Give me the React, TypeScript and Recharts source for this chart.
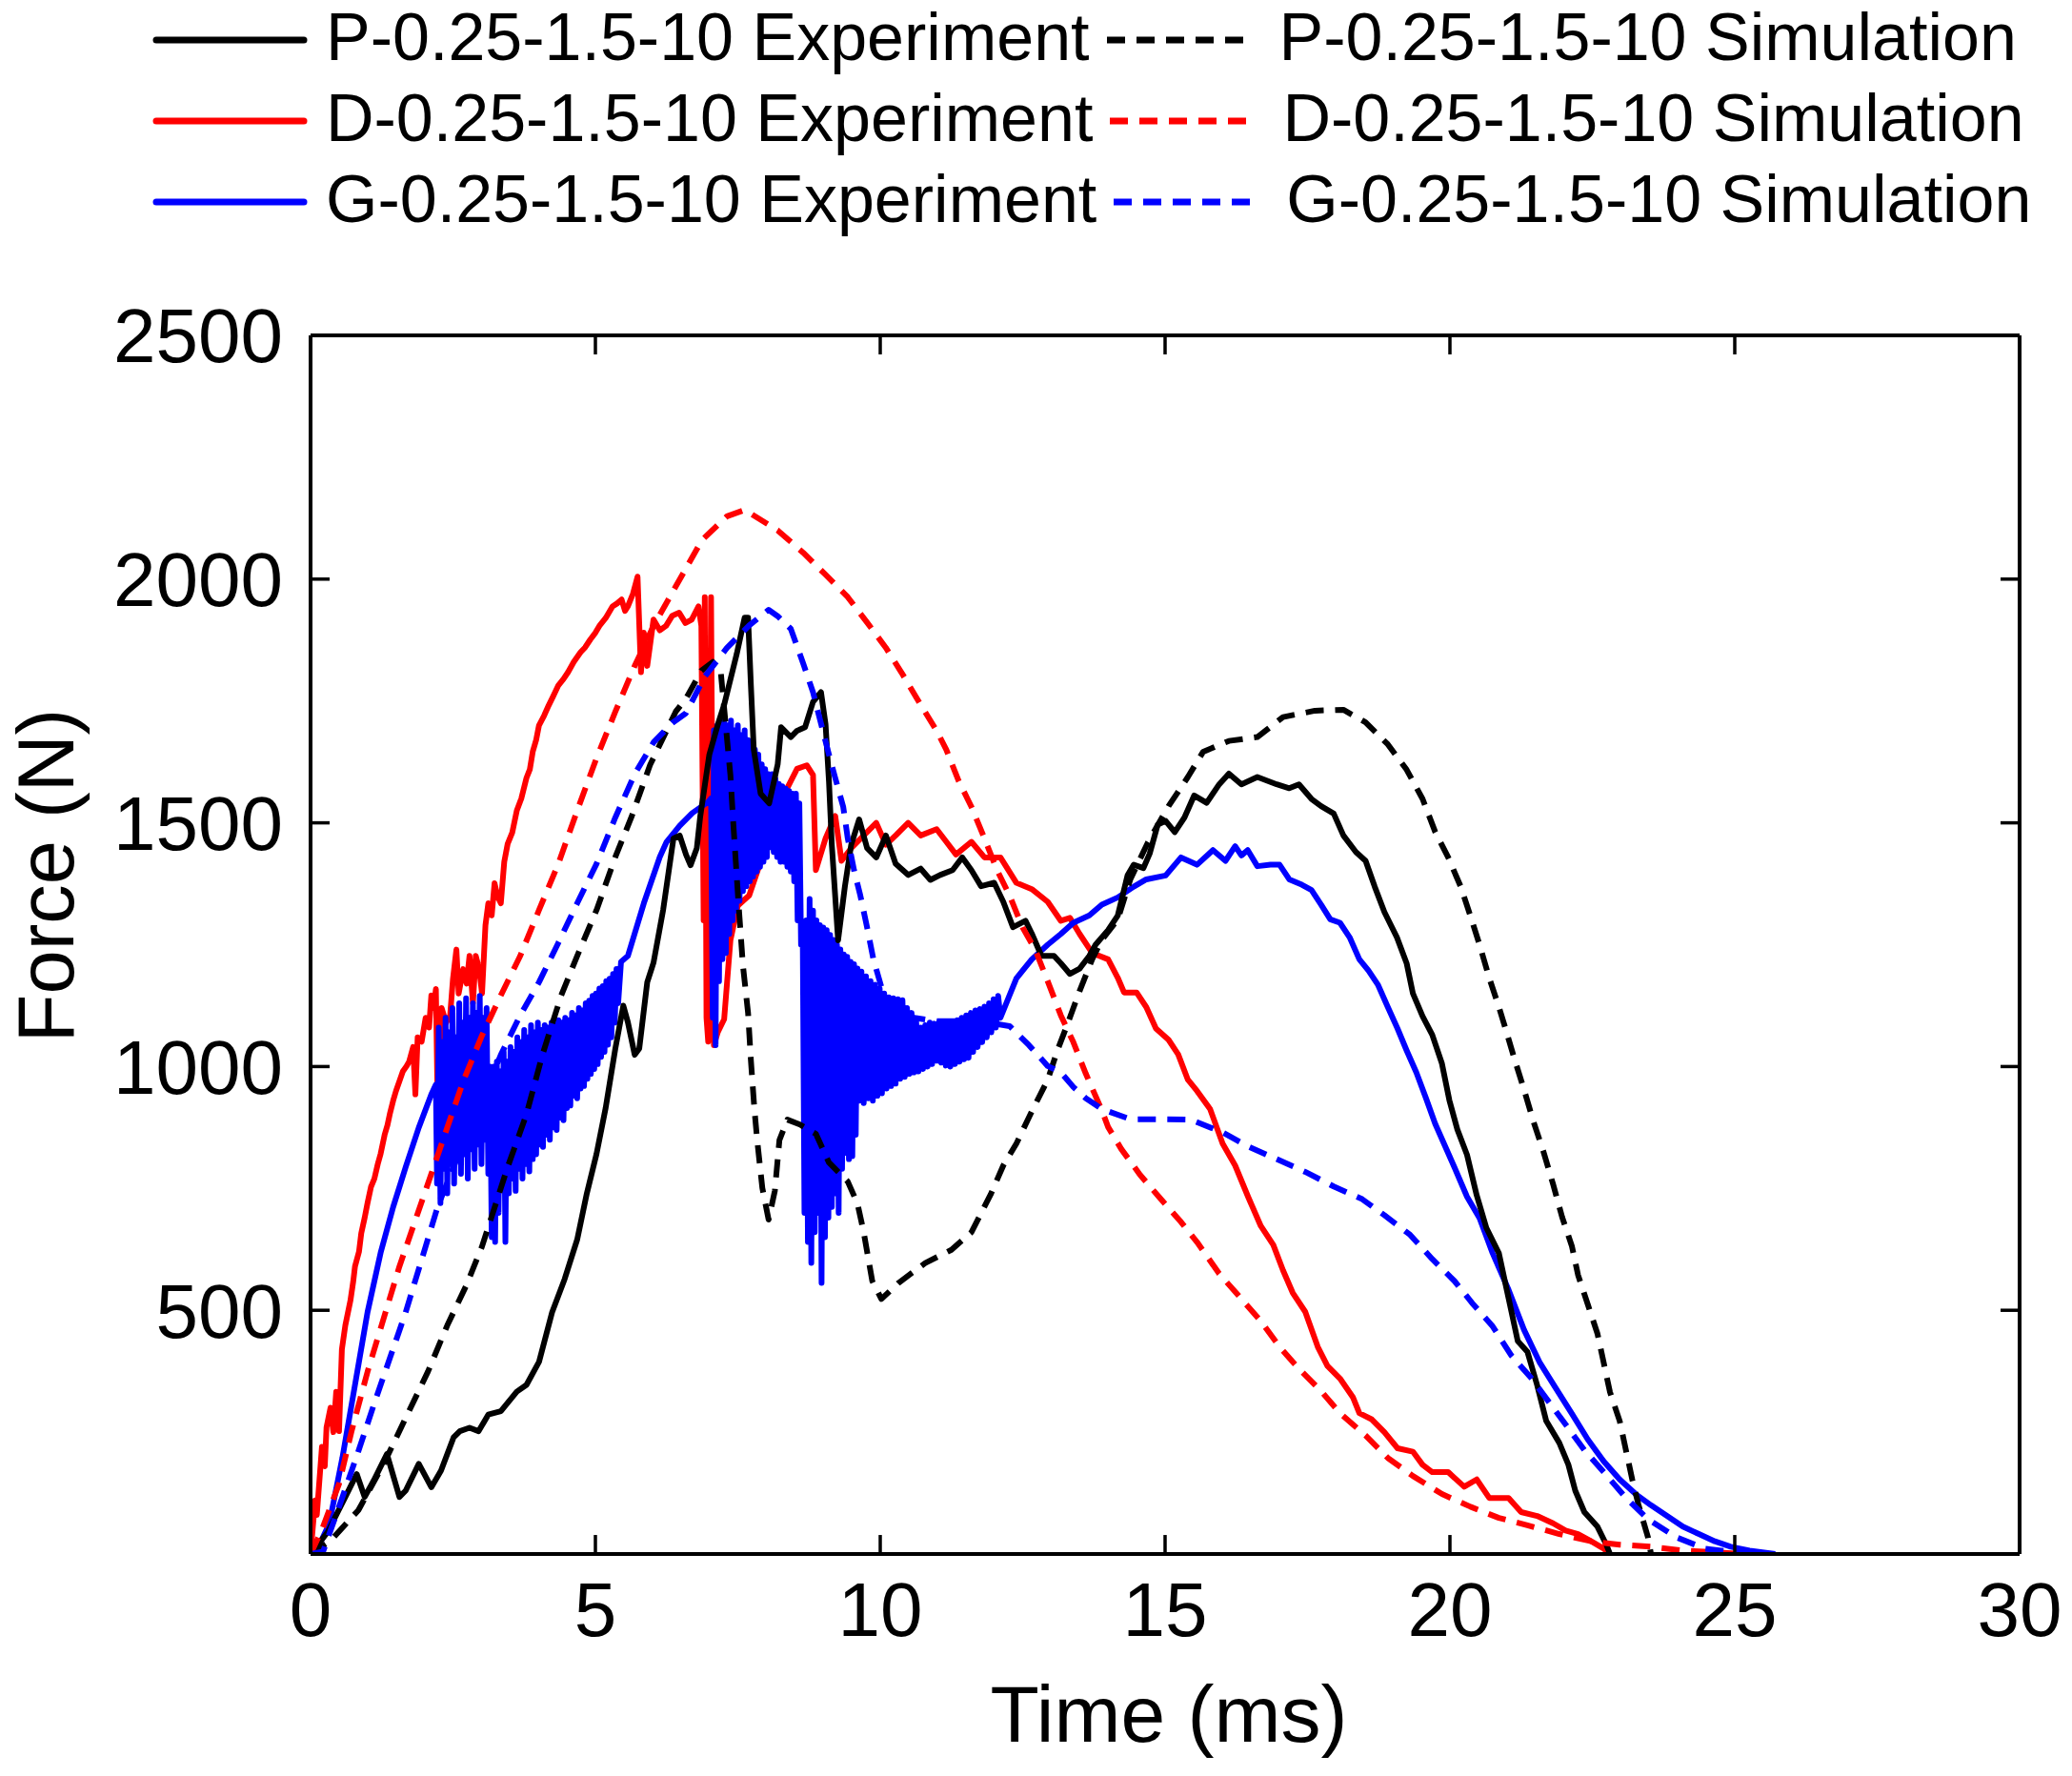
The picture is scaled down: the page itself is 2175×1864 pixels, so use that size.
import React from 'react';
import { LineChart, Line, XAxis, YAxis, ReferenceLine } from 'recharts';

const FONT = '"Liberation Sans", Arial, Helvetica, sans-serif';

const xTicks = [0, 5, 10, 15, 20, 25, 30];
const yTicks = [500, 1000, 1500, 2000, 2500];
const innerXTicks = [5, 10, 15, 20, 25];
const innerYTicks = [500, 1000, 1500, 2000];
const X_MAX = 30;
const Y_MAX = 2500;

const seriesNames = [
  'P-0.25-1.5-10 Experiment', 'P-0.25-1.5-10 Simulation',
  'D-0.25-1.5-10 Experiment', 'D-0.25-1.5-10 Simulation',
  'G-0.25-1.5-10 Experiment', 'G-0.25-1.5-10 Simulation',
];

// [time (ms), force (N)]
const pExperiment: [number, number][] = [
  [0,0],[0.3,45],[0.61,117],[0.81,164],[0.95,117],[1.11,151],[1.34,205],[1.56,117],[1.67,130],[1.9,185],[2.12,137],[2.29,171],[2.51,239],[2.62,252],[2.79,259],[2.95,252],[3.12,286],[3.34,293],[3.62,333],[3.79,347],[4.01,394],[4.24,496],[4.46,564],[4.68,645],[4.85,740],[5.02,821],[5.18,915],[5.35,1037],[5.49,1125],[5.57,1091],[5.69,1024],[5.77,1037],[5.91,1173],[6.02,1213],[6.19,1322],[6.37,1468],[6.48,1474],[6.59,1435],[6.67,1413],[6.78,1448],[6.84,1513],[7.0,1640],[7.15,1702],[7.26,1742],[7.48,1846],[7.62,1921],[7.68,1921],[7.73,1781],[7.78,1650],[7.9,1560],[8.05,1540],[8.2,1620],[8.26,1696],[8.43,1676],[8.54,1689],[8.68,1696],[8.82,1748],[8.96,1768],[9.04,1702],[9.1,1585],[9.15,1455],[9.26,1259],[9.38,1370],[9.49,1455],[9.63,1507],[9.77,1448],[9.93,1429],[10.1,1474],[10.27,1416],[10.49,1393],[10.71,1406],[10.88,1383],[11.05,1393],[11.27,1403],[11.44,1429],[11.6,1403],[11.77,1370],[12.0,1377],[12.16,1338],[12.33,1286],[12.55,1299],[12.66,1273],[12.83,1227],[13.05,1227],[13.17,1212],[13.33,1190],[13.5,1201],[13.67,1227],[13.78,1250],[14.0,1280],[14.17,1310],[14.34,1392],[14.45,1414],[14.62,1407],[14.73,1437],[14.87,1496],[15.01,1504],[15.17,1481],[15.34,1511],[15.51,1556],[15.73,1541],[15.95,1579],[16.12,1601],[16.34,1579],[16.62,1594],[16.96,1579],[17.18,1571],[17.35,1579],[17.57,1549],[17.74,1534],[17.96,1519],[18.13,1474],[18.35,1440],[18.52,1422],[18.68,1369],[18.85,1317],[19.07,1265],[19.24,1212],[19.35,1150],[19.52,1103],[19.69,1065],[19.86,1006],[19.99,931],[20.13,871],[20.3,819],[20.47,736],[20.64,669],[20.86,617],[20.97,557],[21.08,497],[21.19,437],[21.36,415],[21.53,347],[21.69,273],[21.92,228],[22.08,183],[22.2,130],[22.36,86],[22.59,56],[22.75,18],[22.81,0],
];

const pSimulation: [number, number][] = [
  [0,0],[0.35,27],[0.84,90],[1.28,184],[1.67,279],[2.06,374],[2.4,469],[2.73,550],[3.01,631],[3.46,794],[3.79,902],[4.07,1024],[4.4,1146],[4.68,1227],[5.02,1321],[5.35,1430],[5.63,1511],[5.96,1619],[6.41,1728],[6.59,1755],[6.86,1812],[7.06,1830],[7.2,1810],[7.37,1598],[7.42,1500],[7.51,1338],[7.59,1207],[7.68,1110],[7.73,1012],[7.79,914],[7.84,849],[7.93,751],[8.04,686],[8.15,745],[8.23,849],[8.37,891],[8.59,881],[8.87,862],[9.1,803],[9.43,764],[9.6,719],[9.71,660],[9.86,560],[10.02,523],[10.32,556],[10.79,597],[11.25,624],[11.6,660],[11.94,738],[12.16,797],[12.39,842],[12.66,908],[12.94,973],[13.11,1033],[13.28,1085],[13.5,1155],[13.72,1220],[13.89,1260],[14.17,1302],[14.39,1384],[14.7,1460],[15.06,1534],[15.4,1594],[15.67,1646],[16.12,1668],[16.62,1676],[17.07,1717],[17.63,1730],[18.13,1732],[18.52,1706],[18.91,1661],[19.24,1609],[19.52,1549],[19.74,1482],[19.97,1429],[20.19,1369],[20.36,1309],[20.52,1250],[20.69,1182],[20.86,1122],[20.97,1080],[21.14,1013],[21.3,953],[21.47,886],[21.64,826],[21.81,759],[21.97,691],[22.14,632],[22.25,572],[22.42,512],[22.59,452],[22.7,392],[22.81,332],[22.98,273],[23.09,213],[23.2,153],[23.31,101],[23.48,33],[23.53,0],
];

const dExperiment: [number, number][] = [
  [0,0],[0.08,110],[0.11,80],[0.2,220],[0.25,180],[0.28,260],[0.35,300],[0.4,250],[0.45,333],[0.5,252],[0.55,420],[0.61,469],[0.7,520],[0.75,560],[0.78,590],[0.85,620],[0.89,658],[0.95,690],[1.0,720],[1.06,753],[1.12,770],[1.18,800],[1.23,821],[1.3,860],[1.35,880],[1.39,902],[1.45,930],[1.5,950],[1.56,970],[1.62,990],[1.68,1000],[1.73,1010],[1.8,1040],[1.84,943],[1.88,1060],[1.95,1051],[2.02,1100],[2.08,1080],[2.12,1146],[2.16,1120],[2.2,1159],[2.23,929],[2.3,1120],[2.38,1090],[2.45,1105],[2.5,1180],[2.56,1240],[2.6,1150],[2.68,1200],[2.74,1170],[2.79,1227],[2.85,1130],[2.9,1227],[2.96,1200],[3.01,1150],[3.07,1290],[3.12,1335],[3.18,1310],[3.23,1376],[3.28,1350],[3.34,1335],[3.4,1420],[3.46,1457],[3.54,1480],[3.62,1525],[3.7,1550],[3.79,1592],[3.85,1610],[3.9,1646],[3.96,1670],[4.01,1700],[4.1,1720],[4.18,1741],[4.26,1760],[4.35,1782],[4.44,1795],[4.52,1809],[4.62,1830],[4.74,1850],[4.82,1860],[4.91,1876],[5.0,1890],[5.07,1904],[5.18,1920],[5.3,1944],[5.38,1950],[5.46,1958],[5.52,1935],[5.57,1944],[5.66,1970],[5.74,2005],[5.8,1809],[5.85,1890],[5.91,1822],[6.02,1917],[6.13,1895],[6.24,1904],[6.35,1925],[6.47,1931],[6.58,1910],[6.69,1917],[6.81,1944],[6.86,1904],[6.9,1300],[6.92,1963],[6.95,1100],[6.98,1051],[7.03,1963],[7.08,1044],[7.15,1071],[7.26,1097],[7.37,1259],[7.5,1330],[7.7,1351],[7.9,1420],[8.1,1480],[8.37,1572],[8.54,1611],[8.71,1618],[8.82,1598],[8.87,1403],[9.04,1468],[9.21,1514],[9.32,1422],[9.49,1448],[9.71,1474],[9.93,1500],[10.1,1455],[10.27,1474],[10.49,1500],[10.71,1474],[10.99,1487],[11.16,1461],[11.33,1435],[11.6,1461],[11.83,1429],[12.11,1429],[12.39,1377],[12.66,1364],[12.94,1338],[13.17,1299],[13.33,1305],[13.5,1272],[13.72,1233],[14.0,1220],[14.17,1182],[14.28,1152],[14.5,1152],[14.67,1122],[14.84,1078],[15.06,1055],[15.23,1025],[15.4,973],[15.56,950],[15.79,913],[16.01,842],[16.23,797],[16.46,732],[16.68,673],[16.9,634],[17.07,582],[17.24,536],[17.46,497],[17.68,425],[17.85,386],[18.07,360],[18.3,321],[18.41,289],[18.63,276],[18.85,250],[19.08,217],[19.35,210],[19.52,183],[19.69,168],[19.97,168],[20.25,138],[20.47,153],[20.69,115],[21.03,115],[21.25,86],[21.53,78],[21.81,63],[22.03,48],[22.25,41],[22.48,26],[22.7,11],[22.8,0],
];

const dSimulation: [number, number][] = [
  [0,0],[0.2,50],[0.5,144],[0.72,252],[1.0,374],[1.28,482],[1.56,590],[1.84,685],[2.12,780],[2.4,875],[2.68,970],[3.01,1064],[3.34,1146],[3.68,1227],[4.01,1321],[4.35,1416],[4.68,1525],[5.02,1633],[5.35,1728],[5.69,1822],[6.02,1904],[6.41,1985],[6.59,2022],[6.87,2080],[7.31,2129],[7.62,2142],[8.2,2100],[8.65,2054],[9.04,2009],[9.43,1963],[9.77,1911],[10.1,1859],[10.38,1807],[10.71,1742],[10.99,1689],[11.16,1650],[11.38,1585],[11.6,1533],[11.83,1468],[12.05,1403],[12.27,1351],[12.5,1285],[12.72,1240],[12.94,1175],[13.17,1105],[13.39,1050],[13.61,985],[13.89,910],[14.0,876],[14.23,831],[14.56,778],[14.89,733],[15.28,681],[15.56,640],[15.95,575],[16.29,530],[16.68,478],[17.01,425],[17.35,380],[17.74,334],[18.07,289],[18.52,243],[18.91,197],[19.35,160],[19.86,123],[20.36,97],[20.86,74],[21.36,59],[21.92,41],[22.48,26],[22.98,19],[23.53,15],[24.09,7],[24.59,4],[25.1,0],
];

const gExperiment: [number, number][] = [
  [0,0],[0.2,30],[0.33,63],[0.56,198],[0.78,347],[1.0,496],[1.23,618],[1.45,712],[1.67,794],[1.9,875],[2.12,943],[2.2,963],
  [2.22,760],[2.25,1080],[2.28,720],[2.31,1050],[2.34,790],[2.37,1100],[2.40,740],[2.43,1070],[2.46,800],[2.49,1120],[2.52,760],[2.55,1060],[2.58,810],[2.61,1130],[2.64,780],[2.67,1090],[2.70,820],[2.73,1140],[2.76,770],[2.79,1100],[2.82,830],[2.85,1130],[2.88,790],[2.91,1110],[2.94,840],[2.97,1145],[3.00,800],[3.03,1100],[3.06,850],[3.09,1120],[3.12,780],[3.15,1000],
  [3.18,650],[3.21,1000],[3.24,640],[3.27,1010],[3.30,700],[3.33,990],[3.36,760],[3.39,1030],[3.42,640],[3.45,1010],[3.48,740],[3.51,1040],[3.54,770],[3.57,1030],[3.60,745],[3.63,1060],[3.66,790],[3.69,1050],[3.72,770],[3.75,1075],[3.78,800],[3.81,1060],[3.84,785],[3.87,1085],[3.90,810],[3.93,1070],[3.96,820],[3.99,1090],[4.02,840],[4.05,1075],[4.08,835],[4.11,1085],[4.14,860],[4.17,1080],[4.20,850],[4.23,1090],[4.26,875],[4.29,1085],[4.32,870],[4.35,1095],[4.38,895],[4.41,1090],[4.44,890],[4.47,1100],[4.50,915],[4.53,1095],[4.56,920],[4.59,1110],[4.62,940],[4.65,1105],[4.68,935],[4.71,1120],[4.74,955],[4.77,1115],[4.80,960],[4.83,1130],[4.86,975],[4.89,1135],[4.92,985],[4.95,1145],[4.98,995],[5.01,1150],[5.04,1005],[5.07,1160],[5.10,1020],[5.13,1165],[5.16,1030],[5.19,1175],[5.22,1045],[5.25,1180],[5.28,1060],[5.31,1190],[5.34,1090],[5.37,1200],[5.40,1130],[5.45,1215],
  [5.57,1227],[5.85,1335],[6.13,1430],[6.25,1461],[6.48,1494],[6.7,1520],[6.98,1543],[7.03,1550],
  [7.06,1100],[7.08,1690],[7.11,1044],[7.14,1700],[7.17,1175],[7.20,1710],[7.23,1220],[7.26,1716],[7.29,1233],[7.32,1700],[7.35,1272],[7.38,1710],[7.41,1300],[7.44,1690],[7.47,1320],[7.50,1700],[7.53,1340],[7.56,1680],[7.59,1360],[7.62,1690],[7.65,1370],[7.68,1670],[7.71,1380],[7.74,1660],[7.77,1390],[7.80,1650],[7.83,1400],[7.86,1640],[7.89,1410],[7.92,1620],[7.95,1420],[7.98,1610],[8.01,1430],[8.04,1600],[8.07,1450],[8.10,1600],[8.13,1440],[8.16,1590],[8.19,1430],[8.22,1580],[8.25,1420],[8.28,1575],[8.31,1420],[8.34,1570],[8.37,1410],[8.40,1565],[8.43,1400],[8.46,1560],[8.49,1380],[8.52,1560],[8.55,1300],[8.58,1540],[8.61,1250],
  [8.64,1259],[8.67,700],[8.70,1300],[8.73,640],[8.76,1344],[8.79,597],[8.82,1320],[8.85,660],[8.88,1300],[8.91,700],[8.94,1290],[8.97,556],[9.00,1285],[9.03,650],[9.06,1280],[9.09,690],[9.12,1270],[9.15,712],[9.18,1260],[9.21,740],[9.24,1250],[9.27,700],[9.30,1240],[9.33,790],[9.36,1230],[9.39,823],[9.42,1225],[9.45,810],[9.48,1215],[9.51,816],[9.54,1210],[9.57,860],[9.60,1201],
  [9.63,930],[9.67,1195],[9.71,925],[9.75,1185],[9.79,935],[9.83,1175],[9.87,930],[9.91,1168],[9.95,940],[9.99,1160],[10.03,945],[10.07,1150],[10.11,955],[10.15,1142],[10.19,960],[10.23,1140],[10.27,965],[10.31,1138],[10.35,975],[10.39,1136],[10.43,979],[10.47,1120],[10.51,985],[10.55,1110],[10.59,988],[10.63,1095],[10.67,990],[10.71,1080],[10.75,995],[10.79,1085],[10.83,1000],[10.87,1090],[10.91,1005],[10.95,1088],[10.99,1012],[11.03,1090],[11.07,1008],[11.11,1090],[11.15,1002],[11.19,1092],[11.23,1000],[11.27,1090],[11.31,1005],[11.35,1095],[11.39,1010],[11.43,1100],[11.47,1015],[11.51,1105],[11.55,1018],[11.59,1110],[11.63,1030],[11.67,1115],[11.71,1040],[11.75,1118],[11.79,1050],[11.83,1123],[11.87,1060],[11.91,1130],[11.95,1070],[11.99,1138],[12.03,1080],[12.07,1145],[12.11,1100],
  [12.39,1181],[12.66,1220],[12.94,1250],[13.17,1272],[13.39,1295],[13.67,1310],[13.89,1332],[14.17,1347],[14.45,1369],[14.67,1384],[15.01,1392],[15.28,1429],[15.56,1414],[15.84,1444],[16.06,1422],[16.23,1452],[16.34,1433],[16.45,1444],[16.62,1411],[16.85,1414],[17.01,1414],[17.18,1384],[17.4,1373],[17.57,1362],[17.74,1332],[17.9,1302],[18.07,1295],[18.24,1265],[18.41,1220],[18.57,1197],[18.74,1167],[18.91,1122],[19.08,1078],[19.24,1033],[19.41,988],[19.58,935],[19.74,883],[19.91,838],[20.08,793],[20.3,733],[20.52,689],[20.75,617],[21.03,542],[21.3,460],[21.58,392],[21.86,340],[22.14,288],[22.42,235],[22.7,190],[22.98,153],[23.26,123],[23.53,100],[23.81,78],[24.09,56],[24.37,41],[24.65,26],[24.93,15],[25.26,7],[25.71,0],
];

const gSimulation: [number, number][] = [
  [0,0],[0.22,5],[0.56,117],[0.84,211],[1.11,306],[1.39,401],[1.67,496],[1.95,604],[2.23,712],[2.51,794],[2.79,875],[3.01,929],[3.34,1024],[3.68,1105],[4.01,1173],[4.35,1254],[4.68,1335],[5.02,1416],[5.35,1511],[5.69,1600],[6.02,1665],[6.35,1705],[6.59,1725],[6.92,1800],[7.31,1859],[7.7,1905],[8.04,1937],[8.2,1924],[8.43,1898],[8.65,1826],[8.82,1768],[8.99,1690],[9.1,1640],[9.21,1592],[9.35,1533],[9.43,1468],[9.54,1403],[9.65,1351],[9.77,1285],[9.88,1220],[10.04,1155],[10.27,1116],[10.6,1100],[11.0,1093],[11.5,1093],[11.9,1090],[12.27,1083],[12.61,1044],[12.94,1001],[13.17,988],[13.39,958],[13.61,935],[13.89,913],[14.39,892],[14.95,892],[15.45,891],[16.01,865],[16.46,836],[16.96,810],[17.46,784],[17.96,754],[18.46,728],[18.85,695],[19.3,655],[19.69,605],[20.08,560],[20.41,512],[20.75,467],[21.08,407],[21.42,362],[21.75,310],[22.08,258],[22.36,213],[22.7,168],[23.09,115],[23.48,71],[23.98,34],[24.48,11],[24.98,4],[25.48,0],
];

const toPoints = (arr: [number, number][]) => arr.map(([t, f]) => ({ t, f }));

const BLACK = '#000000';
const RED = '#ff0000';
const BLUE = '#0000ff';
const DASH = '19 12';
const LINE_W = 6;

// inward tick length expressed in data units (about 20 px)
const TICK_LEN_T = 0.334;
const TICK_LEN_F = 39;

const seriesDefs = [
  { name: seriesNames[0], data: pExperiment, color: BLACK, dashed: false, order: 2 },
  { name: seriesNames[2], data: dExperiment, color: RED, dashed: false, order: 0 },
  { name: seriesNames[4], data: gExperiment, color: BLUE, dashed: false, order: 1 },
  { name: seriesNames[1], data: pSimulation, color: BLACK, dashed: true, order: 3 },
  { name: seriesNames[3], data: dSimulation, color: RED, dashed: true, order: 4 },
  { name: seriesNames[5], data: gSimulation, color: BLUE, dashed: true, order: 5 },
];

const legendRows = [
  { exp: seriesNames[0], sim: seriesNames[1], color: BLACK },
  { exp: seriesNames[2], sim: seriesNames[3], color: RED },
  { exp: seriesNames[4], sim: seriesNames[5], color: BLUE },
];

const tickStyle = { fontFamily: FONT, fontSize: 80, fill: '#000' };
const axisLine = { stroke: '#000', strokeWidth: 4 };

export default function App() {
  const ordered = [...seriesDefs].sort((a, b) => a.order - b.order);
  const tickSegs: { key: string; seg: [{ x: number; y: number }, { x: number; y: number }] }[] = [];
  innerXTicks.forEach((t) => {
    tickSegs.push({ key: `b${t}`, seg: [{ x: t, y: 0 }, { x: t, y: TICK_LEN_F }] });
    tickSegs.push({ key: `t${t}`, seg: [{ x: t, y: Y_MAX }, { x: t, y: Y_MAX - TICK_LEN_F }] });
  });
  innerYTicks.forEach((v) => {
    tickSegs.push({ key: `l${v}`, seg: [{ x: 0, y: v }, { x: TICK_LEN_T, y: v }] });
    tickSegs.push({ key: `r${v}`, seg: [{ x: X_MAX, y: v }, { x: X_MAX - TICK_LEN_T, y: v }] });
  });

  return (
    <div style={{ position: 'relative', width: 2175, height: 1864, background: '#fff', overflow: 'hidden' }}>
      <style>{`body{margin:0;background:#fff;}`}</style>
      <LineChart
        width={2175}
        height={1864}
        margin={{ top: 351, right: 54, bottom: 133, left: 226 }}
      >
        <XAxis
          xAxisId="main"
          type="number"
          dataKey="t"
          domain={[0, X_MAX]}
          ticks={xTicks}
          allowDataOverflow
          height={100}
          tickSize={0}
          tickMargin={29}
          tick={tickStyle}
          axisLine={axisLine}
          tickLine={false}
          interval={0}
        />
        <XAxis
          xAxisId="top"
          orientation="top"
          type="number"
          domain={[0, X_MAX]}
          ticks={innerXTicks}
          allowDataOverflow
          height={1}
          tick={false}
          axisLine={axisLine}
          tickLine={false}
        />
        <YAxis
          yAxisId="main"
          type="number"
          domain={[0, Y_MAX]}
          ticks={yTicks}
          allowDataOverflow
          width={100}
          tickSize={0}
          tickMargin={29}
          tick={tickStyle}
          axisLine={axisLine}
          tickLine={false}
          interval={0}
        />
        <YAxis
          yAxisId="right"
          orientation="right"
          type="number"
          domain={[0, Y_MAX]}
          ticks={innerYTicks}
          allowDataOverflow
          width={1}
          tick={false}
          axisLine={axisLine}
          tickLine={false}
        />
        {ordered.map((s) => (
          <Line
            key={s.name}
            xAxisId="main"
            yAxisId="main"
            data={toPoints(s.data)}
            dataKey="f"
            name={s.name}
            type="linear"
            stroke={s.color}
            strokeWidth={LINE_W}
            strokeDasharray={s.dashed ? DASH : undefined}
            strokeLinejoin="round"
            dot={false}
            activeDot={false}
            isAnimationActive={false}
          />
        ))}
        {tickSegs.map((tk) => (
          <ReferenceLine
            key={tk.key}
            xAxisId="main"
            yAxisId="main"
            segment={tk.seg}
            stroke="#000"
            strokeWidth={3.5}
            ifOverflow="visible"
          />
        ))}
      </LineChart>

      <svg
        width={2175}
        height={1864}
        style={{ position: 'absolute', left: 0, top: 0, pointerEvents: 'none' }}
      >
        <text x={1227} y={1828} textAnchor="middle" fontFamily={FONT} fontSize={84} fill="#000">
          Time (ms)
        </text>
        <text
          transform="translate(77,919) rotate(-90)"
          textAnchor="middle"
          fontFamily={FONT}
          fontSize={83}
          fill="#000"
        >
          Force (N)
        </text>
      </svg>

      <div
        style={{
          position: 'absolute',
          left: 160,
          top: -3,
          fontFamily: FONT,
          fontSize: 70,
          lineHeight: '85px',
          color: '#000',
        }}
      >
        {legendRows.map((r) => (
          <div key={r.exp} style={{ display: 'flex', alignItems: 'center', height: 85, whiteSpace: 'nowrap' }}>
            <svg width={163} height={12} style={{ position: 'relative', top: 2 }}>
              <line x1={4} y1={6} x2={159} y2={6} stroke={r.color} strokeWidth={7} strokeLinecap="round" />
            </svg>
            <span style={{ marginLeft: 19 }}>{r.exp}</span>
            <svg width={153} height={12} style={{ marginLeft: 18, position: 'relative', top: 2 }}>
              <line x1={0} y1={6} x2={153} y2={6} stroke={r.color} strokeWidth={7} strokeDasharray={DASH} />
            </svg>
            <span style={{ marginLeft: 28 }}>{r.sim}</span>
          </div>
        ))}
      </div>
    </div>
  );
}
